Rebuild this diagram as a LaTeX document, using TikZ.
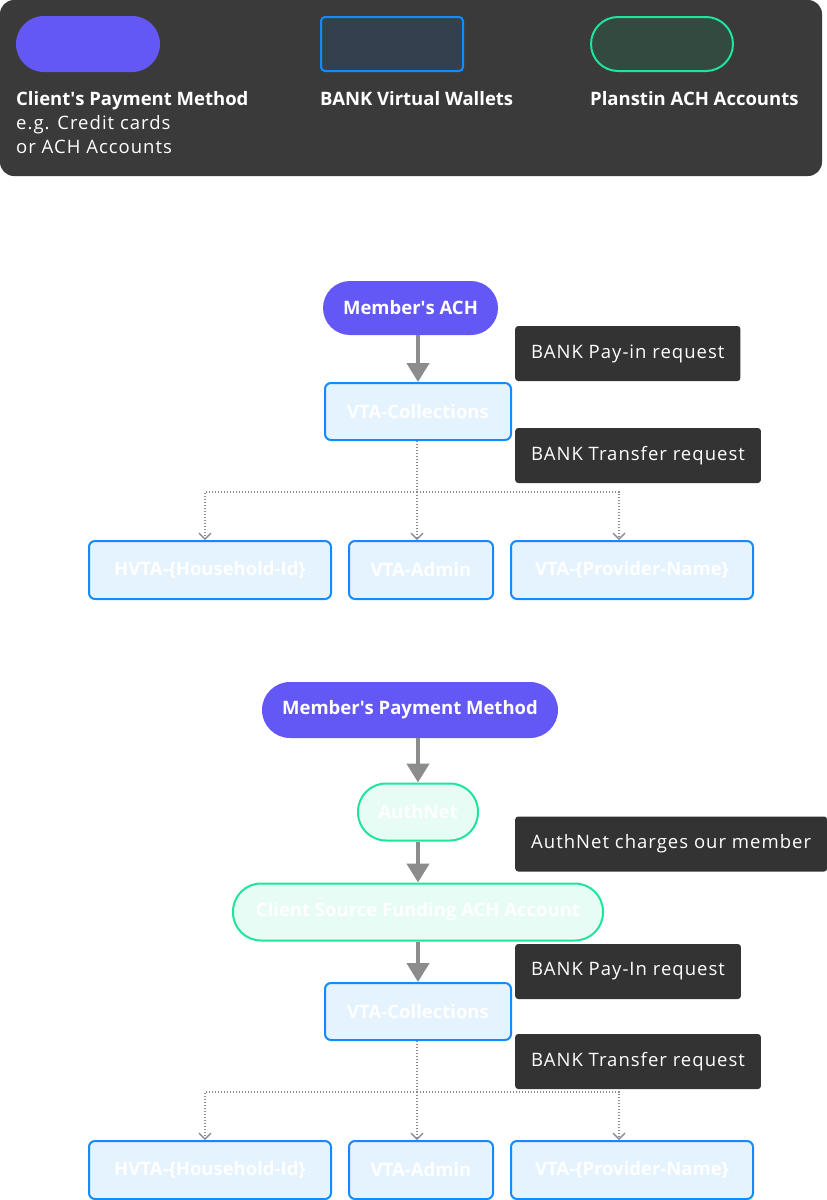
\documentclass[tikz,border=0pt]{standalone}
\usepackage{fontspec}
\setmainfont{Open Sans}
\newfontfamily\widefont[LetterSpace=5.5]{Open Sans}
\usetikzlibrary{arrows.meta}
\definecolor{legbg}{HTML}{3A3A3A}
\definecolor{purp}{HTML}{6358F6}
\definecolor{bblue}{HTML}{148BFC}
\definecolor{fblue}{HTML}{E5F3FE}
\definecolor{dblue}{HTML}{34404D}
\definecolor{bgreen}{HTML}{1DE59C}
\definecolor{fgreen}{HTML}{E6FCF4}
\definecolor{dgreen}{HTML}{334A40}
\definecolor{lbl}{HTML}{333333}
\definecolor{arr}{HTML}{8C8C8C}
\tikzset{
  x=1pt,y=-1pt,
  txt/.style={font=\widefont\fontsize{18.5}{20}\selectfont},
  btxt/.style={font=\fontsize{18.5}{20}\selectfont\bfseries},
  pill/.style={btxt,text=white,fill=purp,rounded corners=27pt,inner sep=0pt},
  wallet/.style={btxt,text=white,fill=fblue,draw=bblue,line width=2pt,rounded corners=6pt,inner sep=0pt,minimum height=57pt},
  gpill/.style={btxt,text=white,fill=fgreen,draw=bgreen,line width=2pt,rounded corners=28pt,inner sep=0pt,minimum height=57pt},
  lblbox/.style={txt,text=white,fill=lbl,rounded corners=3pt,inner xsep=16pt,inner ysep=0pt,minimum height=55pt,anchor=west},
  flow/.style={draw=arr,line width=4.5pt,-{Triangle[width=22pt,length=19pt]}},
  dotl/.style={draw=arr,line width=1.3pt,dash pattern=on 1.4pt off 1.6pt},
  dotarr/.style={dotl,-{Straight Barb[width=12pt,length=6pt,line width=1.3pt]}},
  legtxt/.style={anchor=base west,inner sep=0pt,text=white},
}
\begin{document}
\begin{tikzpicture}
\useasboundingbox (0,0) rectangle (827,1200);
% legend
\fill[legbg,rounded corners=14pt] (0,0) rectangle (822,176);
\node[fill=purp,rounded corners=28pt,minimum width=144pt,minimum height=56pt,inner sep=0pt] (lp) at (88,44) {};
\node[fill=dblue,draw=bblue,line width=2pt,rounded corners=4pt,minimum width=142pt,minimum height=54pt,inner sep=0pt] (lb) at (392,44) {};
\node[fill=dgreen,draw=bgreen,line width=2pt,rounded corners=27pt,minimum width=142pt,minimum height=54pt,inner sep=0pt] (lg) at (662,44) {};
\node[legtxt,btxt] (lt1) at (16,105) {Client\textquotesingle s Payment Method};
\node[legtxt,txt] (lt2) at (16,129) {e.g. Credit cards};
\node[legtxt,txt] (lt3) at (16,153) {or ACH Accounts};
\node[legtxt,btxt] (lt4) at (320,105) {BANK Virtual Wallets};
\node[legtxt,btxt] (lt5) at (590,105) {Planstin ACH Accounts};
% top flow
\node[pill,minimum width=175pt,minimum height=54pt] (m1) at (410.5,308) {Member\textquotesingle s ACH};
\node[wallet,minimum width=186pt] (c1) at (418,411.5) {VTA-Collections};
\node[lblbox] (l1) at (515,353.5) {BANK Pay-in request};
\node[lblbox] (l2) at (515,455.5) {BANK Transfer request};
\node[wallet,minimum width=242pt,minimum height=58pt] (hv1) at (210,570) {HVTA-\{Household-Id\}};
\node[wallet,minimum width=144pt,minimum height=58pt] (ad1) at (421,570) {VTA-Admin};
\node[wallet,minimum width=242pt,minimum height=58pt] (pv1) at (632,570) {VTA-\{Provider-Name\}};
\coordinate (j1) at (417,492);
\coordinate (j1l) at (205,492);
\coordinate (j1r) at (619,492);
\draw[flow] (m1.south -| c1.north) -- (c1.north);
\draw[dotl] (c1.south -| j1) -- (j1);
\draw[dotarr] (j1) -| (hv1.north -| j1l);
\draw[dotarr] (j1) -- (ad1.north -| j1);
\draw[dotarr] (j1) -| (pv1.north -| j1r);
% bottom flow
\node[pill,minimum width=296pt,minimum height=56pt,rounded corners=28pt] (m2) at (410,710) {Member\textquotesingle s Payment Method};
\node[gpill,minimum width=120pt] (an) at (418,812) {AuthNet};
\node[gpill,minimum width=370pt] (cs) at (418,912) {Client Source Funding ACH Account};
\node[wallet,minimum width=186pt] (c2) at (418,1011.5) {VTA-Collections};
\node[lblbox] (l3) at (515,844) {AuthNet charges our member};
\node[lblbox] (l4) at (515,971.5) {BANK Pay-In request};
\node[lblbox] (l5) at (515,1061.5) {BANK Transfer request};
\node[wallet,minimum width=242pt,minimum height=58pt] (hv2) at (210,1170) {HVTA-\{Household-Id\}};
\node[wallet,minimum width=144pt,minimum height=58pt] (ad2) at (421,1170) {VTA-Admin};
\node[wallet,minimum width=242pt,minimum height=58pt] (pv2) at (632,1170) {VTA-\{Provider-Name\}};
\coordinate (j2) at (417,1092);
\coordinate (j2l) at (205,1092);
\coordinate (j2r) at (619,1092);
\draw[flow] (m2.south -| an.north) -- (an.north);
\draw[flow] (an.south) -- (cs.north);
\draw[flow] (cs.south) -- (c2.north);
\draw[dotl] (c2.south -| j2) -- (j2);
\draw[dotarr] (j2) -| (hv2.north -| j2l);
\draw[dotarr] (j2) -- (ad2.north -| j2);
\draw[dotarr] (j2) -| (pv2.north -| j2r);
\end{tikzpicture}
\end{document}
